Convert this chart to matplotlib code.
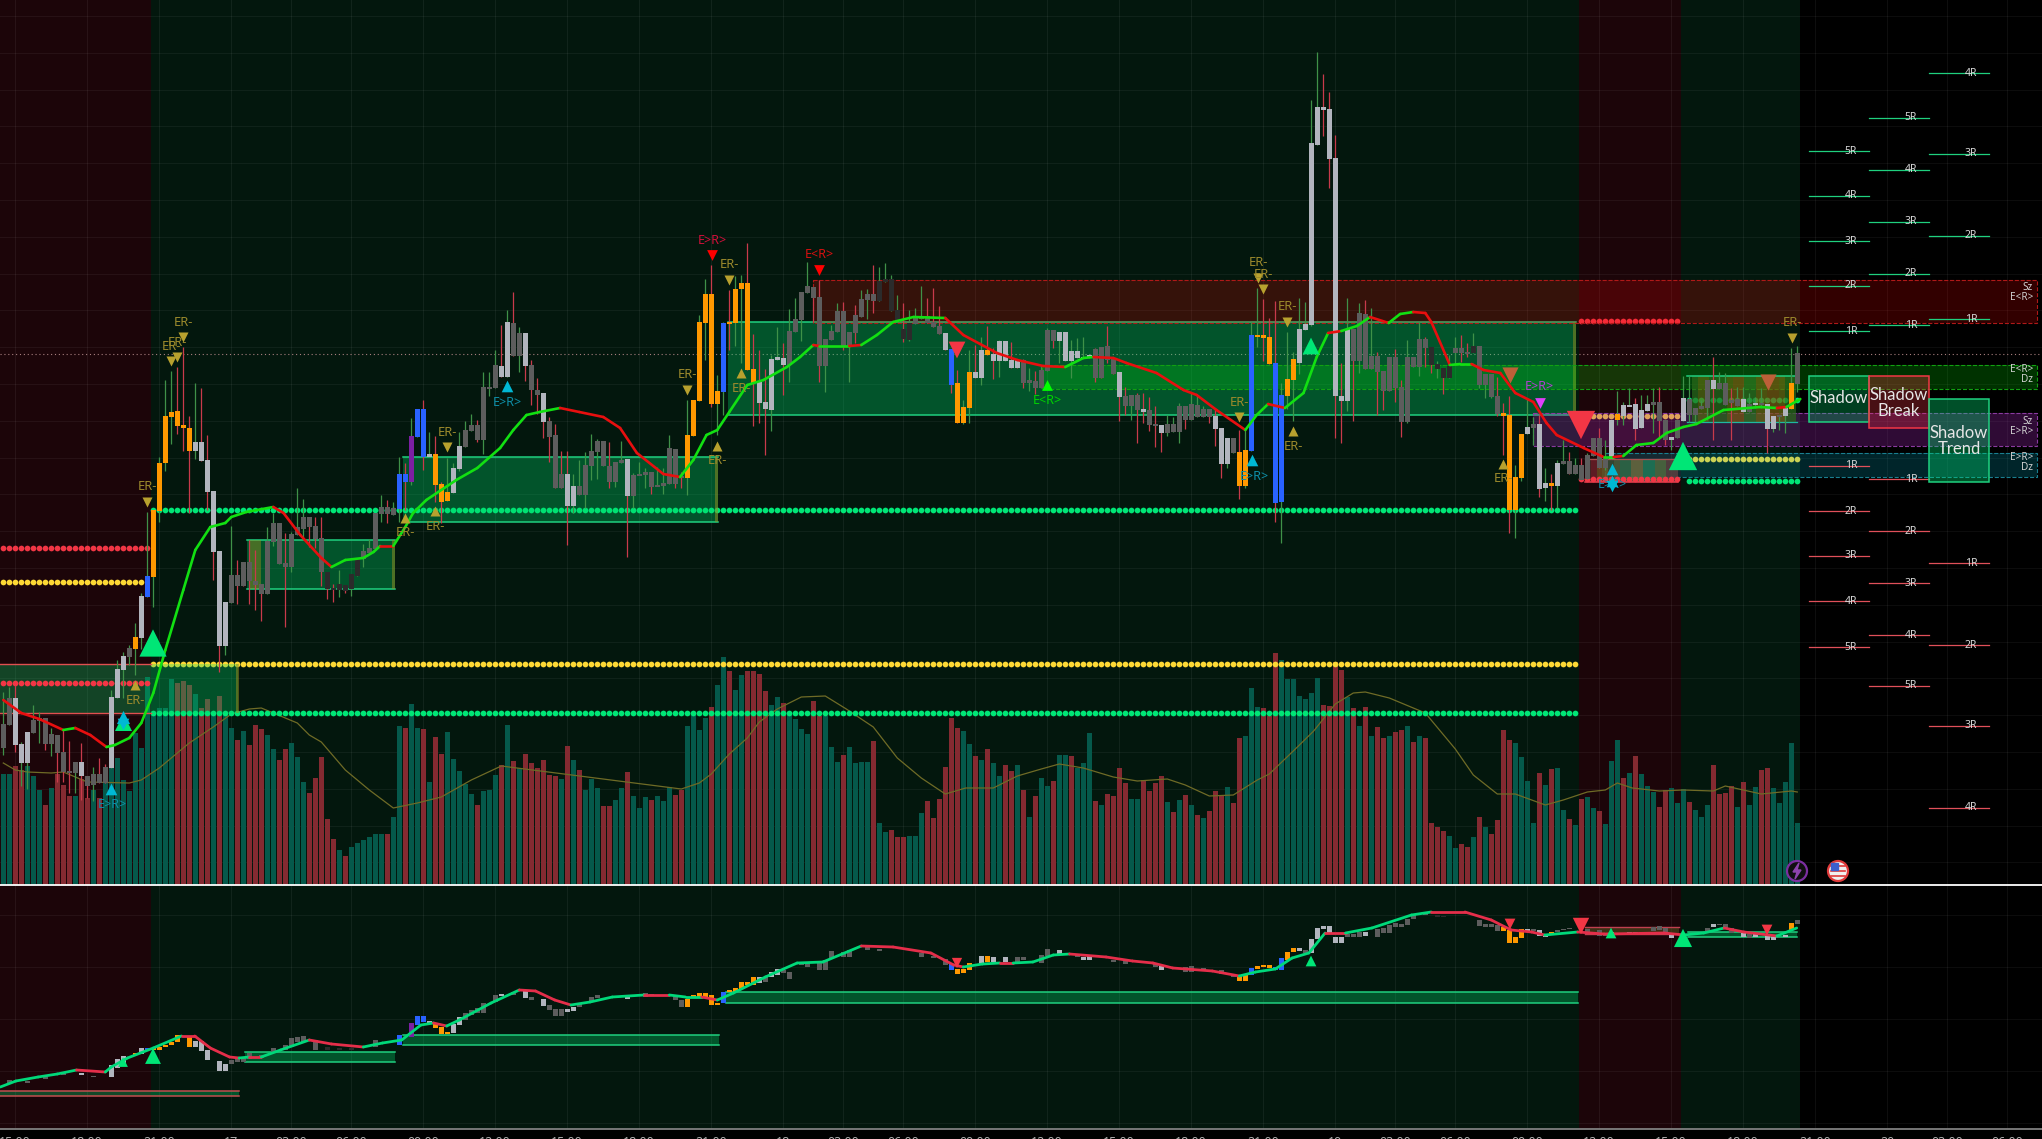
import numpy as np
import matplotlib
matplotlib.use("Agg")
import matplotlib.pyplot as plt
from matplotlib.patches import Rectangle, Circle, Polygon

plt.rcParams['font.family'] = ['Noto Sans', 'DejaVu Sans']

body_top = [
    724,698,698,744,732,720,718,718,734,735, 752,771,762,762,776,774,774,767,697,669,
    656,648,637,596,576,510,463,416,412,411, 425,428,442,442,460,491,551,602,575,575,
    562,562,581,584,541,523,523,563,534,527, 517,517,526,538,572,588,584,585,574,559,
    551,548,513,507,507,508,474,474,436,409, 409,454,454,484,492,468,446,430,425,425,
    387,387,365,366,322,323,333,333,365,390, 393,421,435,474,474,486,486,465,451,441,
    441,466,462,460,459,475,474,472,472,485, 483,448,449,476,435,400,322,294,294,391,
    323,322,289,283,283,369,382,402,359,357, 358,331,319,292,286,287,297,339,331,311,
    311,332,315,299,294,294,281,279,279,310, 329,323,318,316,316,322,326,333,349,383,
    407,372,372,350,350,354,341,341,360,360, 360,380,381,370,330,330,332,332,351,351,
    357,355,349,347,346,359,372,396,395,395, 409,410,424,425,424,424,406,406,404,405,
    409,409,416,428,438,438,452,450,335,335, 335,337,363,395,379,359,329,324,143,107,
    107,109,158,396,329,329,313,314,356,356, 371,357,357,387,357,357,339,339,347,364,
    368,366,348,348,352,346,346,374,374,396, 413,415,477,434,427,424,424,483,483,463,
    461,461,465,465,455,438,438,458,420,414, 405,405,404,410,404,402,402,420,437,420,
    398,399,408,406,380,380,383,383,400,399, 399,404,403,403,404,416,415,408,383,353]
body_bot = [
    748,725,745,763,763,733,721,744,744,753, 772,773,773,776,786,785,783,783,768,698,
    670,657,649,638,597,577,511,463,417,426, 428,451,451,461,492,552,646,646,603,586,
    586,581,585,594,594,542,564,567,567,535, 529,527,539,572,589,590,590,591,589,576,
    559,553,549,514,514,515,509,482,482,437, 457,457,485,502,501,493,469,447,431,440,
    440,388,388,377,377,356,356,366,390,395, 422,437,488,488,506,506,495,495,466,452,
    466,482,482,463,496,496,475,475,487,486, 486,484,484,477,478,436,401,323,404,404,
    392,323,323,289,370,383,403,409,410,360, 365,365,332,320,293,298,366,366,340,332,
    346,346,333,317,300,301,301,282,311,322, 339,340,324,319,323,327,334,350,385,423,
    423,408,378,378,355,361,361,361,368,368, 383,383,388,388,371,341,341,361,361,358,
    358,358,378,378,360,374,397,406,406,410, 412,425,426,433,433,432,432,420,420,417,
    417,417,429,464,464,453,486,486,451,336, 338,364,503,502,396,380,363,330,325,145,
    110,159,396,401,401,361,361,369,369,372, 391,391,388,422,422,367,367,348,365,369,
    378,378,353,353,353,353,385,385,397,414, 416,510,510,478,434,428,489,488,486,486,
    464,474,474,480,479,456,468,468,459,420, 416,406,429,428,411,405,421,440,440,438,
    421,415,415,409,408,389,389,405,403,406, 412,412,404,404,429,429,417,416,409,384]
wick_hi = [
    692,687,685,742,732,705,712,718,728,735, 730,741,762,743,776,767,758,764,690,660,
    652,645,623,593,512,510,457,380,371,367, 347,416,383,388,435,491,551,602,526,560,
    562,540,550,584,527,513,523,533,532,488, 499,517,517,517,572,584,570,585,574,559,
    544,539,513,495,500,502,457,463,418,409, 400,432,436,482,458,463,432,421,414,420,
    372,372,350,325,310,292,327,333,360,378, 393,417,424,451,451,474,460,452,434,439,
    441,442,462,441,459,473,462,468,472,467, 468,435,449,472,400,400,315,279,265,375,
    322,290,276,275,243,334,350,369,355,327, 343,309,298,292,262,287,280,339,325,303,
    302,332,305,290,289,265,267,263,275,295, 303,310,308,286,298,288,306,333,349,370,
    400,350,345,337,326,348,340,341,342,360, 359,368,371,365,328,330,332,332,340,338,
    337,355,348,347,326,359,372,387,395,393, 393,397,406,425,415,417,403,406,393,396,
    406,409,409,428,438,438,430,430,322,288, 299,318,301,383,332,352,298,302,100,52,
    74,92,135,363,298,329,303,300,308,352, 371,357,349,380,340,357,322,337,347,361,
    368,355,337,335,343,333,346,374,374,377, 403,396,465,434,398,417,415,468,474,460,
    440,452,458,458,453,438,428,440,420,391, 402,388,398,395,395,388,387,420,437,420,
    376,376,408,400,380,357,372,373,388,387, 387,393,397,388,404,416,415,408,348,346]
wick_lo = [
    755,725,752,786,789,733,743,750,756,782, 782,793,793,800,798,801,783,783,768,698,
    698,665,675,649,597,607,522,471,444,434, 451,513,459,461,510,580,672,655,603,604,
    586,604,610,621,594,546,564,627,572,535, 540,547,548,586,599,602,597,593,596,576,
    567,553,549,522,523,515,522,510,485,437, 470,457,502,523,501,493,471,447,431,442,
    454,396,388,377,377,356,372,381,405,414, 438,462,488,488,545,513,495,508,480,479,
    466,488,487,463,557,508,475,488,494,486, 494,484,488,488,495,436,401,360,407,435,
    415,350,346,363,370,426,423,455,431,360, 395,382,332,341,293,322,382,392,340,332,
    350,382,343,317,319,313,301,282,311,322, 342,341,324,319,323,327,334,350,393,423,
    424,423,378,385,355,379,377,361,368,368, 388,391,394,388,371,348,363,361,378,358,
    358,358,382,378,363,374,421,415,420,443, 423,431,447,452,436,432,443,429,420,417,
    417,423,446,478,468,453,499,488,451,347, 361,364,522,543,409,421,374,330,326,145,
    136,188,438,443,411,421,373,369,369,415, 410,391,402,437,423,367,376,367,373,378,
    394,378,365,362,357,353,388,398,398,416, 455,533,538,481,434,445,497,501,510,508,
    464,474,474,480,479,456,468,470,459,425, 425,406,440,428,411,433,437,445,450,438,
    421,422,422,409,420,440,389,405,440,406, 412,412,408,408,453,432,430,433,409,392]
body_kind = ("DDLLLDDDDD" "DDDLDDDDLL" "LDOLBOOOOO" "OOLLLLLLDD" "DDDDDDDDDD" "DDDDKKKKKK"
             "DDDDDDBBPB" "BLOOOLLDDD" "DDDLLDDLDD" "LDDDLLDDDD" "DDDDLDDDDD" "DDDDOOOOOO"
             "BOOOOOLLLL" "LDDDDDDDDD" "DDDDDDKKKK" "KKDDDDDLBO" "OOLLOLLLLL" "DDDDDDLLLL"
             "LLDDDDLDDD" "LDDLDDDDDD" "DDLLLDOOBO" "OOBBOOLLLL" "LLLLLDDDDD" "DDDDDDDDKK"
             "KKDDDKDDDD" "OOOOLDLLOL" "DDDDDDDDLO" "LLLLLDDDLD" "LDDDDLDDDD" "LDLDLLDLOD")
wick_kind = ("ggrggggrgr" "rrgrrgrrgg" "gggggggggr" "rrgrrrrggr" "rrrrgggrgg" "grrrrrgrgg"
             "ggggrggrgg" "rgrrgggggr" "gggrgrgrrr" "rrrrrggggg" "grggrgggrg" "ggrrggggrg"
             "grggrrrrgg" "rggggrrggg" "rgrggrgggg" "rgggrrrrrr" "ggrgrrggrr" "rgrggrgggg"
             "ggrrrrrrgr" "rrrrgggrgg" "grrrggrggg" "rrrggggggg" "rrrrgrgrgr" "rrrrgggrrg"
             "rggrrggggr" "rrggggrgrg" "grgrggrggg" "ggrgggrrgg" "gggggrggrg" "ggggrggggg")

volume_top = [
    774,774,766,770,766,776,790,805,788,774, 785,796,796,779,798,790,798,773,758,758,
    780,791,733,748,677,713,708,708,679,683, 681,685,694,708,699,713,696,713,728,740,
    731,745,725,729,735,749,760,749,743,757, 782,793,778,757,819,839,850,856,847,843,
    840,837,834,834,834,817,726,728,704,728, 729,782,737,754,732,759,771,784,794,805,
    791,790,775,765,725,761,768,754,763,768, 760,775,776,779,746,760,770,790,779,788,
    806,806,800,788,772,796,808,797,800,796, 801,787,795,790,726,713,730,718,707,685,
    657,671,690,675,671,671,674,691,705,697, 703,712,719,729,734,701,716,716,747,762,
    755,747,763,762,762,741,823,832,830,837, 837,836,836,813,801,818,799,767,718,728,
    731,744,756,760,749,763,776,765,771,765, 790,817,796,778,786,781,755,755,756,768,
    763,733,801,805,794,796,768,783,799,799, 780,791,783,776,802,812,800,795,805,815,
    818,811,791,795,787,803,738,736,688,707, 708,716,653,660,679,679,696,699,693,678,
    705,706,662,670,697,708,726,707,736,727, 738,736,732,730,726,742,736,738,823,827,
    831,836,848,844,847,837,817,827,834,820, 730,740,743,757,781,823,773,785,769,768,
    810,819,825,799,797,808,811,824,761,740, 778,773,756,774,786,792,807,790,788,803,
    789,802,810,817,805,765,794,793,786,807, 782,805,787,770,768,788,803,782,743,823]
volume_kind = ("TTRRTTTRTR" "RRTRRTRTTT" "TTTTTTTTTR" "RRTRRTRTTR" "TRRRTTRRTT" "TRRRRRTRTT"
               "TTTTRTTRTT" "RTRRTTTTTR" "TTTRTRTRRR" "RRRTRTRTTT" "RRTTRTTTRT" "TTRRTTTTRT"
               "TRTTRRRRTT" "RTTTTRRTTT" "RTTTTRTTRR" "RTTTRRRRRR" "TTRTRTTRRT" "RTRTTRTTRT"
               "TTRTRRRRTT" "RRRRTRTRTR" "TRRRTRRTTT" "RRRTTTTTTT" "RRRRTRTRTR" "RTRRTRTRRR"
               "RTTRRTRTRR" "RRTTTTRTRT" "TRTRTTRTTT" "RTRTTTRRTT" "TRTTTRRRRT" "RTTRRTTTTT")

volume_ma_bar = [0,2,4,8,10,14,21,23,26,31,35,38,41,43,45,49,51,53,57,61,65,69,73,78,83,
                 113,116,118,121,124,126,129,133,137,140.5,145,149,153,157,160.4,165,169,173,176,180,185,
                 189,194,197,201,205,209,211,215,218.4,222,225,227,231,237,242,245,249,252,257,260,264,
                 267,269,271.5,276,280,285,287,293,298,299]
volume_ma = [763,770,772,773,772,782,783,780,768,743,727,714,709,708,713,723,735,742,770,790,808,803,797,780,766,
             789,783,774,754,738,722,709,697,696,709,727,758,778,794,788,788,776,769,764,768,777,
             781,779,785,796,795,780,774,751,731,704,693,692,698,713,749,775,794,794,805,800,792,
             790,783,788,791,790,791,786,794,791,792]

trend_bar = [0,3,6,10,12,14.5,17.2,18.6,21,23, 25,27,30,32,34.5,37,38,40.5,45,46.7,
             49.5,53,54.7,57,60,61.7,62.8,65,67,68.3, 70.5,75.5,79,82.8,85,87.2,89.4,92.8,96,100,
             102.8,105.6,110,112.8,115,117.2,119,121,124,126.7, 130.6,132.8,135,136,141,143,145.6,148.3,151.7,157,
             160,162.8,165.6,169,173.3,177,180,181.7,185,187.2, 192.2,196.7,198.9,202.2,207,208.9,210.8,213.6,216.7,218.9,
             220.8,223,225.6,227.8,230.9,232.8,235,237,238,241.1, 242.8,244.7,246.7,249.5,252,255,257.2,258.9,263.4,266.7,
             268.4,270,272.2,275,277.2,280,282.2,286.7,292.8,295.6, 297.2,299.5]
trend_y = [700,713,719,730,728,735,747,745,738,723, 693,650,590,550,527,523,517,512,507,513,
           535,558,567,560,558,552,546,546,527,513, 500,480,468,448,430,415,412,408,412,417,
           428,453,474,477,460,435,430,412,385,380, 367,357,345,346,346,345,335,322,317,318,
           335,344,353,360,366,367,358,357,358,363, 373,390,395,410,430,415,404,408,393,357,
           333,331,326,317,323,314,312,313,322,365, 364,364,370,373,393,402,423,435,448,457,
           457,456,445,443,433,427,424,410,407,408, 407,399]
trend_kind = ("rrrgrrgggg" "ggggggggrr" "rrggggrggg" "gggggggrrr" "rrrggggggg" "ggrgrggggr"
              "rrrrrggrrr" "rrrrggrggg" "rggrggrrrg" "grrrrrrrrg" "rggggggggr" "gg")

lower_bar = [1,4,7,10,13,15,18,19,20,22, 23,24,25,26,27,28,29,31,32,33, 34,36,37,38,39,40,41,43,45,47,
             48,49,50,52,54,56,58,62,66,68, 69,70,71,72,73,74,75,76,77,78, 79,80,82,83,85,87,88,90,91,92,
             93,94,95,96,98,99,104,107,108,112, 113,114,115,116,117,118,119,120,121,122,
             123,124,125,126,127,128,129,130,131,133, 134,136,137,138,140,141,144,146,153,155,
             157,158,159,160,161,163,164,165,167,169, 170,173,174,176,179,180,181,185,187,192,
             193,197,198,200,203,205,206,207,208,209, 210,211,212,213,214,215,216,217,218,219,
             220,221,222,223,224,225,226,227,229,230, 231,232,233,234,235,237,239,240,246,247,
             248,249,250,251,252,253,254,255,256,257, 258,259,260,261,264,266,267,268,271,272,
             273,275,276,277,278,280,282,284,285,286, 287,288,290,291,292,294,295,297,298,299]
lower_top = [1080,1081,1077,1073,1073,1076,1065,1059,1056,1053, 1048,1048,1048,1047,1045,1042,1035,1036,1041,1041,
             1050,1061,1064,1060,1058,1057,1053,1055,1048,1045, 1038,1037,1036,1040,1047,1048,1048,1040,1035,1023,
             1016,1016,1021,1023,1027,1032,1024,1017,1013,1010, 1008,1003,995,994,992,990,997,999,1005,1009,
             1009,1009,1007,1003,997,995,997,993,994,996, 1000,999,995,993,993,995,1003,992,990,988,
             982,982,977,977,977,972,969,970,972,962, 962,962,960,951,952,950,947,949,953,956,
             959,964,969,969,963,956,956,957,957,957, 957,955,949,950,955,957,956,960,961,964,
             966,967,966,968,970,975,976,974,968,966, 965,965,967,958,952,948,948,950,939,928,
             926,926,937,937,934,934,932,932,929,928, 925,923,924,919,915,912,915,916,920,924,
             924,925,927,930,937,929,929,929,930,934, 932,930,929,928,929,930,934,932,932,932,
             932,927,926,928,934,934,933,928,924,924, 924,928,933,934,934,935,937,935,923,920]
lower_bot = [1083,1083,1079,1075,1075,1077,1077,1068,1065,1055, 1054,1050,1050,1050,1047,1045,1042,1047,1047,1051,
             1060,1071,1071,1064,1062,1062,1059,1058,1053,1050, 1047,1042,1042,1050,1050,1050,1050,1047,1045,1037,
             1025,1022,1023,1028,1034,1034,1033,1025,1020,1015, 1013,1013,1002,996,995,998,1000,1006,1010,1016,
             1016,1012,1011,1007,1002,998,999,997,996,1000, 1007,1007,998,997,997,1005,1005,1003,992,992,
             989,985,985,983,982,977,975,973,979,965, 967,970,970,958,957,957,950,951,957,958,
             965,970,974,973,970,964,962,962,962,962, 960,963,956,955,957,960,960,962,964,967,
             970,972,972,971,974,977,981,981,975,969, 967,968,970,970,960,952,951,953,953,939,
             929,933,943,943,937,937,937,936,937,933, 933,927,927,925,919,915,917,917,926,927,
             927,931,931,943,943,938,932,931,936,937, 934,932,930,929,932,936,936,937,934,934,
             934,931,930,933,938,936,935,932,927,925, 928,933,937,938,937,940,940,937,930,924]
lower_kind = ("DDDDLDLLLO" "LBOOOOOOLL" "LLLDDDDDDD" "DDDDKKKDBP" "BBLOOOLLDD" "DDDLDLDLDD"
              "DLLDDDLDDD" "DOOOOOOBOO" "OOOLDLLDDD" "DDDDDDDDDD" "DBOOOLOLLD" "DDDLDLLDDD"
              "LDDDDDOOBO" "OOBBOOLDLL" "LLLLDDDLDD" "DDDDDDKKDD" "DDOOOOLDLL" "ODDDDDDLLL"
              "LDDDLLDDLD" "DDLDLLLLOD")

lower_line_bar = [-0.5,2.1,5.8,9,12.2,17,18,20.7,25,29.7, 31.9,34.5,37.7,39.3,41,43,46.2,51,54.7,60,
                  63.2,66.4,69.6,71.7,73.9,76,81.3,86,88.7,91.9, 94.6,97.8,101.5,106.8,111,113.7,116.4,119,121.7,127,
                  132.3,136.6,143,148.3,154.6,158.4,160,163.2,166.1,168.3, 171.6,175,177.7,183.8,188.2,191.6,194.9,201.5,206,208.7,
                  212,214.8,217.6,220.3,223.7,228.1,234.7,238,243.6,248, 251.3,254.7,256.9,262.4,266.8,276.8,280.1,283.4,286.8,290.1,
                  295.6,298.9]
lower_line = [1087,1081,1077,1074,1070,1072,1067,1058,1048,1036, 1036,1048,1057,1058,1057,1057,1050,1040,1044,1047,
              1043,1040,1025,1023,1026,1020,1003,990,991,1000, 1005,1002,997,995,995,997,997,1000,993,977,
              963,962,946,947,953,965,967,964,963,963, 962,955,954,957,961,963,968,971,976,972,
              969,958,953,933,933,928,915,912,912,920, 930,932,935,932,934,933,935,933,928,932,
              936,928]
lower_line_kind = ("ggggrggggr" "rrrgrggrrg" "gggrgggrrr" "gggrggrggg" "ggrrrrggrg" "ggrrrrrrgg"
                   "gggrgggrrr" "rrgrrrggrr" "gg")

tick_x = [15,87,159,231,291,351,423,495,567,639,711,783,843,903,975,1047,1119,1191,1263,1335,
          1395,1455,1527,1599,1671,1743,1815,1887,1947,2007]
tick_labels = ['15:00','18:00','21:00','17','03:00','06:00','09:00','12:00','15:00','18:00','21:00','18',
               '03:00','06:00','09:00','12:00','15:00','18:00','21:00','19','03:00','06:00','09:00','12:00',
               '15:00','18:00','21:00','20','03:00','06:00']

er_down_x = [147,183,177,171,447,729,687,1239,1258,1263,1287,1792]
er_down_y = [502,337,357,361,447,280,390,417,278,289,322,338]
er_up_x = [135,405,435,717,741,1293,1503]
er_up_y = [685,518,511,446,373,431,464]
teal_x = [111,507,1252,1612,1612]
teal_y = [789,386,460,469,481]
big_up_x, big_up_y, big_up_w = [153,1311,1683,123], [643,346,456,722], [26,16,27,17]
big_dn_x, big_dn_y, big_dn_w = [957,1581], [350,425], [16,27]
brown_dn_x, brown_dn_y = [1510,1768], [375,382]

ladder_left = [1809,1869,1929]
ladder_up = [[331,286,241,196,151],[325,274,222,170,118],[319,236,154,73]]
ladder_dn = [[466,511,556,601,647],[479,531,583,635,686],[563,645,726,808]]

assert len(body_top) == len(body_bot) == len(wick_hi) == len(wick_lo) == len(body_kind) == len(wick_kind) == 300
assert len(volume_top) == len(volume_kind) == 300
assert len(lower_bar) == len(lower_top) == len(lower_bot) == len(lower_kind)
assert len(trend_bar) == len(trend_y) == len(trend_kind)
assert len(lower_line_bar) == len(lower_line) == len(lower_line_kind)
assert len(volume_ma_bar) == len(volume_ma)

bar_x = 6 * np.arange(300) + 3.3
chart_end = 1800
pane_line = 885
base_line = 1129

CANDLE = {'L':'#b2b5be','D':'#5d5d5d','K':'#2b2b2b','O':'#ff9800','B':'#2962ff','P':'#7b1fa2'}
WICK = {'g':'#3f9148','r':'#c93a4b'}
VOL = {'T':'#05594b','R':'#842a31'}
BG = '#03170d'
RED_BG = '#1c0509'


def bar_pos(b):
    return 6 * np.asarray(b, dtype=float) + 3.3


def band(x0, x1, y0, y1, color, alpha, edge=None, z=3, ls='-', lw=1.0):
    ax.add_patch(Rectangle((x0, y0), x1 - x0, y1 - y0, facecolor=color, alpha=alpha, edgecolor='none', zorder=z))
    if edge:
        ax.add_patch(Rectangle((x0, y0), x1 - x0, y1 - y0, fill=False, edgecolor=edge, lw=lw, ls=ls, zorder=z))


def dots(x0, x1, y, color, z=2.5):
    xs = bar_x[(bar_x >= x0) & (bar_x <= x1)]
    ax.scatter(xs, np.full(len(xs), y), s=17, color=color, linewidths=0, zorder=z)


def coloured_line(xs, ys, kinds, green, red, lw, z):
    for k in range(len(xs) - 1):
        ax.plot(xs[k:k+2], ys[k:k+2], color=green if kinds[k] == 'g' else red, lw=lw,
                solid_capstyle='round', zorder=z)


fig = plt.figure(figsize=(20.42, 11.39), dpi=100, facecolor='black')
ax = fig.add_axes([0, 0, 1, 1])
ax.set_xlim(0, 2042)
ax.set_ylim(1139, 0)
ax.axis('off')
ax.add_patch(Rectangle((0, 0), 2042, 1139, color='black', zorder=0))

# session backgrounds
for y0, y1 in [(0, pane_line), (pane_line, base_line)]:
    ax.add_patch(Rectangle((0, y0), chart_end, y1 - y0, color=BG, lw=0, zorder=0.1))
    ax.add_patch(Rectangle((0, y0), 151, y1 - y0, color=RED_BG, lw=0, zorder=0.2))
    ax.add_patch(Rectangle((1579, y0), 102, y1 - y0, color=RED_BG, lw=0, zorder=0.2))

# grid
for x in tick_x:
    ax.plot([x, x], [0, base_line], color='white', alpha=0.06, lw=0.8, zorder=0.5)
for y in np.arange(16, pane_line, 36.8):
    ax.plot([0, 2042], [y, y], color='white', alpha=0.05, lw=0.8, zorder=0.5)
for y in np.arange(915, base_line, 52):
    ax.plot([0, 2042], [y, y], color='white', alpha=0.05, lw=0.8, zorder=0.5)

# volume
vol_top = np.array(volume_top, dtype=float)
ax.bar(bar_x, pane_line - vol_top, bottom=vol_top, width=5, color=[VOL[k] for k in volume_kind], lw=0, zorder=1)
ax.plot(bar_pos(volume_ma_bar), volume_ma, color='#6f6b26', lw=0.9, zorder=1.5)

# dotted levels
dots(0, 148, 548, '#f23645')
dots(0, 143, 582, '#fdd835')
dots(0, 148, 683, '#f23645', z=3.5)
dots(152, 1577, 510, '#00e676')
dots(152, 1577, 664, '#fdd835')
dots(152, 1577, 713, '#00e676')
dots(1580, 1680, 321, '#f23645')
dots(1580, 1680, 415.5, '#fdd835')
dots(1580, 1680, 479, '#f23645', z=3.5)
dots(1686, 1800, 459, '#fdd835')
dots(1686, 1800, 481, '#00e676')
dots(1686, 1800, 400, '#00e676')
ax.plot([0, 2042], [354, 354], color='#a87f7f', lw=0.8, ls=(0, (1, 2.5)), zorder=2.6)

# demand boxes
ax.add_patch(Rectangle((0, 664), 238, 49, color='#00d86c', alpha=0.3, lw=0, zorder=3))
ax.plot([0, 151], [664, 664], color='#e05050', lw=1, zorder=3)
ax.plot([0, 151], [713, 713], color='#e05050', lw=1, zorder=3)
band(236, 239, 664, 713, '#9a8f20', 0.5)
for x0, x1, y0, y1 in [(247, 395, 540, 589), (403, 718, 457, 522), (728, 1576, 322, 415)]:
    band(x0, x1, y0, y1, '#00d86c', 0.32)
    ax.plot([x0, x1], [y0, y0], color='#1fd07f', lw=1.1, zorder=3)
    ax.plot([x0, x1], [y1, y1], color='#1fd07f', lw=1.1, zorder=3)
    band(x1 - 3, x1, y0, y1, '#9a8f20', 0.5)
band(249, 261, 540, 589, '#9a8f20', 0.45)

# supply / demand zones running to the right edge
band(813, 2037, 280, 323, '#ff0000', 0.2, '#b01818', ls='--', lw=0.8)
band(1042, 2037, 365, 389, '#00ff00', 0.2, '#12a012', ls='--', lw=0.8)
band(1533, 2037, 413, 446, '#9c27b0', 0.3, '#8a3aa0', ls='--', lw=0.8)
band(1605, 2037, 453, 477, '#00bcd4', 0.2, '#1a7f90', ls='--', lw=0.8)
for txt, y in [('Sz', 288), ('E<R>', 298), ('E<R>', 369), ('Dz', 380), ('Sz', 422), ('E>R>', 432), ('E>R>', 457), ('Dz', 467)]:
    ax.text(2033, y, txt, color='#d0d0d0', fontsize=7.2, ha='right', va='center', zorder=7)

# small boxes with per-bar tint
strip_e = ['#4a2a2a','#6a2028','#6a4a20','#6a5a2a','#3a4a30','#4a5a38','#2f6a48','#2f6a48',
           '#6a6a40','#6a6a40','#1f7a58','#1f7a58','#4f6a40','#4f6a40','#5a4040','#5a4040']
for k, col in enumerate(strip_e):
    ax.add_patch(Rectangle((1585 + 5.8 * k, 459), 5.8, 23, color=col, alpha=0.85, lw=0, zorder=3))
ax.plot([1585, 1678], [459, 459], color='#a85050', lw=0.9, zorder=3)
ax.plot([1585, 1678], [482, 482], color='#f04050', lw=1.1, zorder=3)
strip_f = ['#2a6a1a','#5a6a10','#5a6a10','#2a6a1a','#2a6a1a','#2a6a1a','#5a6a10','#7a5a10','#7a5a10',
           '#2f7a20','#2f7a20','#6a6a10','#6a6a10','#7a5a10','#7a5a10','#6a6a10','#2a6a1a','#2a6a1a']
for k, col in enumerate(strip_f):
    ax.add_patch(Rectangle((1692 + 5.8 * k, 376), 5.8, 46, color=col, alpha=0.7, lw=0, zorder=3))
ax.plot([1687, 1797], [376, 376], color='#1fd07f', lw=1.1, zorder=3)
ax.plot([1687, 1797], [422, 422], color='#1fb8a0', lw=0.9, zorder=3)

# candles
ax.vlines(bar_x, wick_hi, wick_lo, colors=[WICK[k] for k in wick_kind], lw=0.9, zorder=4)
top = np.array(body_top, dtype=float)
bot = np.array(body_bot, dtype=float)
ax.bar(bar_x, np.maximum(bot - top, 1.5), bottom=top, width=5, color=[CANDLE[k] for k in body_kind], lw=0, zorder=4.2)

# trend line
coloured_line(bar_pos(trend_bar), trend_y, trend_kind, '#12e012', '#e80f0f', 1.9, 5)

# markers
ax.scatter(er_down_x, er_down_y, marker='v', s=52, color='#b8a12e', linewidths=0, zorder=6)
ax.scatter(er_up_x, er_up_y, marker='^', s=52, color='#b8a12e', linewidths=0, zorder=6)
for x, y in zip(er_down_x, er_down_y):
    ax.text(x, y - 15, 'ER-', color='#9c8a2c', fontsize=9.3, ha='center', va='center', zorder=6)
for x, y in zip(er_up_x, er_up_y):
    ax.text(x, y + 15, 'ER-', color='#9c8a2c', fontsize=9.3, ha='center', va='center', zorder=6)
ax.scatter(big_up_x[3:], big_up_y[3:], marker='^', s=[150], color='#00e676', linewidths=0, zorder=6)
ax.scatter(teal_x, teal_y, marker='^', s=70, color='#00b8d4', linewidths=0, zorder=6.1)
ax.scatter([123, 1612], [724, 486], marker='v', s=70, color='#00b8d4', linewidths=0, zorder=6.1)
ax.scatter([123], [717], marker='^', s=90, color='#00b8d4', linewidths=0, zorder=6.1)
for x, y in [(112, 805), (507, 402), (1254, 476), (1612, 484)]:
    ax.text(x, y, 'E>R>', color='#0e8fa8', fontsize=9, ha='center', va='center', zorder=6)
ax.scatter(big_up_x[:3], big_up_y[:3], marker='^', s=[(w * 0.72) ** 2 * 1.1 for w in big_up_w[:3]], color='#00e676', linewidths=0, zorder=6)
ax.scatter(big_dn_x, big_dn_y, marker='v', s=[(w * 0.72) ** 2 * 1.1 for w in big_dn_w], color='#f23645', linewidths=0, zorder=6)
ax.scatter(brown_dn_x, brown_dn_y, marker='v', s=135, color='#bd6038', linewidths=0, zorder=6)
ax.scatter([712, 819], [255, 270], marker='v', s=60, color='#ff0000', linewidths=0, zorder=6)
ax.text(712, 240, 'E>R>', color='#d0103a', fontsize=9, ha='center', va='center', zorder=6)
ax.text(819, 255, 'E<R>', color='#d81010', fontsize=9, ha='center', va='center', zorder=6)
ax.scatter([1047], [385], marker='^', s=60, color='#00ff00', linewidths=0, zorder=6)
ax.text(1047, 401, 'E<R>', color='#00d400', fontsize=9, ha='center', va='center', zorder=6)
ax.scatter([1540], [403], marker='v', s=60, color='#e040fb', linewidths=0, zorder=6)
ax.text(1539, 387, 'E>R>', color='#b03fd0', fontsize=9, ha='center', va='center', zorder=6)

# R ladders
for left, ups, downs in zip(ladder_left, ladder_up, ladder_dn):
    for k, y in enumerate(ups):
        ax.plot([left, left + 60], [y, y], color='#1fd07f', lw=0.9, zorder=5)
        ax.text(left + 42, y, f'{k + 1}R', color='#d8d8d8', fontsize=7.5, fontweight='bold', ha='center', va='center', zorder=5)
    for k, y in enumerate(downs):
        ax.plot([left, left + 60], [y, y], color='#e0505a', lw=0.9, zorder=5)
        ax.text(left + 42, y, f'{k + 1}R', color='#d8d8d8', fontsize=7.5, fontweight='bold', ha='center', va='center', zorder=5)

# shadow boxes
band(1809, 1869, 376, 422, '#00e676', 0.28, '#1fd07f', z=6, lw=1.1)
band(1869, 1929, 376, 428, '#f23645', 0.3, '#f23645', z=6, lw=1.1)
band(1929, 1989, 399, 482, '#00e676', 0.35, '#1fd07f', z=6, lw=1.1)
ax.text(1839, 398, 'Shadow', family='Lato', color='#e6e6e6', fontsize=12, ha='center', va='center', zorder=7)
ax.text(1899, 403, 'Shadow\nBreak', family='Lato', color='#e6e6e6', fontsize=12, ha='center', va='center', linespacing=1.0, zorder=7)
ax.text(1959, 441, 'Shadow\nTrend', family='Lato', color='#e6e6e6', fontsize=12, ha='center', va='center', linespacing=1.0, zorder=7)

# lower pane
for x0, x1, y0, y1, edge in [(0, 239, 1091, 1096, '#c05050'), (245, 395, 1052, 1062, '#1fd07f'),
                             (403, 719, 1035, 1045, '#1fd07f'), (726, 1578, 992, 1003, '#1fd07f'),
                             (1688, 1797, 932, 937, '#1fd07f')]:
    band(x0, x1, y0, y1, '#00d86c', 0.32, z=3)
    ax.plot([x0, x1], [y0, y0], color=edge, lw=1.1, zorder=3)
    ax.plot([x0, x1], [y1, y1], color=edge, lw=1.1, zorder=3)
band(1585, 1679, 927, 934, '#5a5a20', 0.5, z=3)
ax.plot([1585, 1679], [927, 927], color='#c04050', lw=1, zorder=3)
ax.plot([1585, 1679], [934, 934], color='#c04050', lw=1, zorder=3)
low_x = bar_pos(lower_bar)
low_top = np.array(lower_top, dtype=float)
low_bot = np.array(lower_bot, dtype=float)
ax.bar(low_x, low_bot - low_top, bottom=low_top, width=5, color=[CANDLE[k] for k in lower_kind], lw=0, zorder=4)
coloured_line(bar_pos(lower_line_bar), lower_line, lower_line_kind, '#00d97a', '#e52e4a', 2.0, 5)
ax.scatter([123, 153, 1611, 1311, 1683], [1062, 1056, 933, 961, 938], marker='^', s=[50, 130, 60, 60, 170], color='#00e676', linewidths=0, zorder=6)
ax.scatter([957, 1510, 1581, 1767], [963, 924, 926, 930], marker='v', s=[55, 60, 140, 60], color='#f23645', linewidths=0, zorder=6)

# pane borders and time axis
ax.plot([0, 2042], [pane_line, pane_line], color='white', lw=1.3, zorder=8)
ax.plot([0, 2042], [base_line, base_line], color='#808080', lw=1.3, zorder=8)
for x, lab in zip(tick_x, tick_labels):
    ax.text(x, 1136, lab, color='#b0b0b0', fontsize=9, ha='center', va='top', zorder=8)

# status icons
ax.add_patch(Circle((1797, 871), 10, facecolor='#101010', edgecolor='#7b2fa0', lw=1.6, zorder=8))
ax.add_patch(Polygon([(1799, 863), (1793, 872), (1797, 872), (1795, 879), (1801, 870), (1797, 870)], color='#8e44ad', zorder=8.1))
ax.add_patch(Circle((1838, 871), 10, facecolor='#f0f0f0', edgecolor='#e03a3a', lw=1.6, zorder=8))
for y in [866, 871, 876]:
    ax.plot([1831, 1845], [y, y], color='#e03a3a', lw=1.2, zorder=8.1)
ax.add_patch(Rectangle((1831, 863), 7, 7, color='#3a5fcd', zorder=8.2))

fig.savefig('out.png', dpi=100, facecolor='black')
